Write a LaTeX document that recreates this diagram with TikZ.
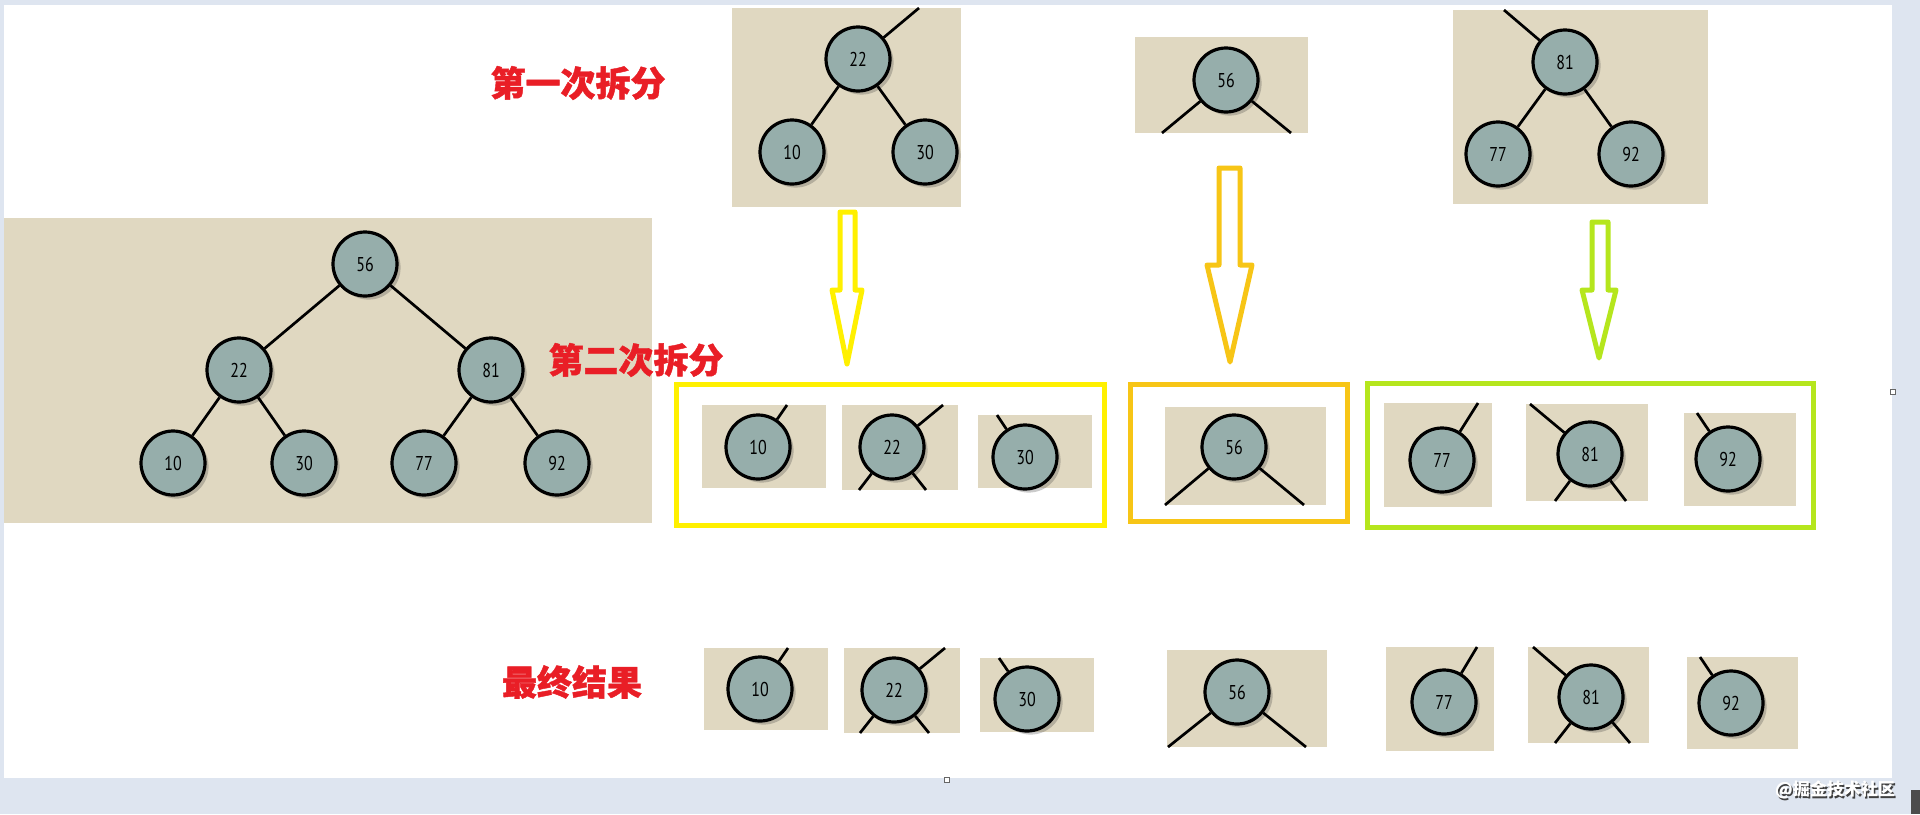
\documentclass[tikz,border=0pt]{standalone}
\usepackage{fontspec}
\setmainfont{PT Sans}
\newfontfamily\numfont{PT Sans}[FakeStretch=0.8]
\newfontfamily\cjk{Noto Sans CJK SC}[BoldFeatures={FakeBold=1.2}]
\newfontfamily\cjkplain{Noto Sans CJK SC}
\usetikzlibrary{shadows}
\definecolor{pagebg}{RGB}{222,229,240}
\definecolor{panelc}{RGB}{224,216,193}
\definecolor{nodefill}{RGB}{150,174,171}
\definecolor{lblred}{RGB}{233,30,38}
\definecolor{ylw}{RGB}{255,240,0}
\definecolor{goldc}{RGB}{247,197,22}
\definecolor{limec}{RGB}{181,230,29}
\begin{document}
\begin{tikzpicture}[x=0.5pt,y=-0.5pt,
  panel/.style={fill=panelc},
  edge/.style={draw=black,line width=1.35pt},
  tnode/.style={circle,draw=black,line width=1.6pt,fill=nodefill,minimum size=32pt,inner sep=0pt,
    font=\numfont\fontsize{10}{11}\selectfont,text=black,
    drop shadow={shadow xshift=1.8pt,shadow yshift=-1.8pt,opacity=0.25,fill=black!80}},
  lbl/.style={font=\cjk\bfseries\fontsize{17.5}{20}\selectfont,text=lblred,inner sep=0pt},
  arrowshape/.style={line width=2.5pt,line join=round,fill=white},
  groupbox/.style={line width=2.5pt},
  handle/.style={draw=black!60,fill=white,line width=0.4pt}]
\useasboundingbox (0,0) rectangle (1920,814);
\fill[pagebg] (0,0) rectangle (1920,814);
\fill[white] (4,5) rectangle (1892,778);

% ---------- big tree ----------
\fill[panel] (4,218) rectangle (652,523);
\node[tnode] (n56) at (365,264) {56};
\node[tnode] (n22) at (239,370) {22};
\node[tnode] (n81) at (491,370) {81};
\node[tnode] (n10) at (173,463) {10};
\node[tnode] (n30) at (304,463) {30};
\node[tnode] (n77) at (424,463) {77};
\node[tnode] (n92) at (557,463) {92};
\draw[edge] (n56) -- (n22);
\draw[edge] (n56) -- (n81);
\draw[edge] (n22) -- (n10);
\draw[edge] (n22) -- (n30);
\draw[edge] (n81) -- (n77);
\draw[edge] (n81) -- (n92);

% ---------- labels ----------
\node[lbl] (l1) at (578,83) {第一次拆分};
\node[lbl] (l2) at (636,360) {第二次拆分};
\node[lbl] (l3) at (572,682) {最终结果};

% ---------- first split ----------
\fill[panel] (732,8) rectangle (961,207);
\node[tnode] (a22) at (858,59) {22};
\node[tnode] (a10) at (792,152) {10};
\node[tnode] (a30) at (925,152) {30};
\coordinate (a22u) at (919,8);
\draw[edge] (a22u) -- (a22);
\draw[edge] (a22) -- (a10);
\draw[edge] (a22) -- (a30);

\fill[panel] (1135,37) rectangle (1308,133);
\node[tnode] (b56) at (1226,80) {56};
\coordinate (b56l) at (1162,133);
\coordinate (b56r) at (1291,133);
\draw[edge] (b56l) -- (b56);
\draw[edge] (b56r) -- (b56);

\fill[panel] (1453,10) rectangle (1708,204);
\node[tnode] (c81) at (1565,62) {81};
\node[tnode] (c77) at (1498,154) {77};
\node[tnode] (c92) at (1631,154) {92};
\coordinate (c81u) at (1504,10);
\draw[edge] (c81u) -- (c81);
\draw[edge] (c81) -- (c77);
\draw[edge] (c81) -- (c92);

% ---------- arrows ----------
\draw[arrowshape,draw=ylw] (840,212) -- (855,212) -- (855,290) -- (862,290) -- (847,364) -- (832,290) -- (840,290) -- cycle;
\draw[arrowshape,draw=goldc] (1219,168) -- (1240,168) -- (1240,265) -- (1252,265) -- (1230,362) -- (1207,265) -- (1219,265) -- cycle;
\draw[arrowshape,draw=limec] (1592,222) -- (1608,222) -- (1608,290) -- (1616,290) -- (1599,358) -- (1582,290) -- (1592,290) -- cycle;

% ---------- second split ----------
\draw[groupbox,draw=ylw] (676,384) rectangle (1104,525);
\fill[panel] (702,405) rectangle (826,488);
\node[tnode] (d10) at (758,447) {10};
\coordinate (d10u) at (787,405);
\draw[edge] (d10u) -- (d10);
\fill[panel] (842,405) rectangle (958,490);
\node[tnode] (d22) at (892,447) {22};
\coordinate (d22u) at (943,405);
\coordinate (d22l) at (859,490);
\coordinate (d22r) at (926,490);
\draw[edge] (d22u) -- (d22);
\draw[edge] (d22l) -- (d22);
\draw[edge] (d22r) -- (d22);
\fill[panel] (978,415) rectangle (1092,488);
\node[tnode] (d30) at (1025,457) {30};
\coordinate (d30u) at (997,415);
\draw[edge] (d30u) -- (d30);

\draw[groupbox,draw=goldc] (1130,384) rectangle (1347,521);
\fill[panel] (1165,407) rectangle (1326,505);
\node[tnode] (e56) at (1234,447) {56};
\coordinate (e56l) at (1165,505);
\coordinate (e56r) at (1304,505);
\draw[edge] (e56l) -- (e56);
\draw[edge] (e56r) -- (e56);

\draw[groupbox,draw=limec] (1367,383) rectangle (1813,527);
\fill[panel] (1384,403) rectangle (1492,507);
\node[tnode] (f77) at (1442,460) {77};
\coordinate (f77u) at (1478,403);
\draw[edge] (f77u) -- (f77);
\fill[panel] (1526,404) rectangle (1648,501);
\node[tnode] (f81) at (1590,454) {81};
\coordinate (f81u) at (1530,404);
\coordinate (f81l) at (1555,501);
\coordinate (f81r) at (1626,501);
\draw[edge] (f81u) -- (f81);
\draw[edge] (f81l) -- (f81);
\draw[edge] (f81r) -- (f81);
\fill[panel] (1684,413) rectangle (1796,506);
\node[tnode] (f92) at (1728,459) {92};
\coordinate (f92u) at (1697,413);
\draw[edge] (f92u) -- (f92);

% ---------- final result ----------
\fill[panel] (704,648) rectangle (828,730);
\node[tnode] (g10) at (760,689) {10};
\coordinate (g10u) at (788,648);
\draw[edge] (g10u) -- (g10);
\fill[panel] (844,648) rectangle (960,733);
\node[tnode] (g22) at (894,690) {22};
\coordinate (g22u) at (945,648);
\coordinate (g22l) at (860,733);
\coordinate (g22r) at (929,733);
\draw[edge] (g22u) -- (g22);
\draw[edge] (g22l) -- (g22);
\draw[edge] (g22r) -- (g22);
\fill[panel] (980,658) rectangle (1094,732);
\node[tnode] (g30) at (1027,699) {30};
\coordinate (g30u) at (999,658);
\draw[edge] (g30u) -- (g30);

\fill[panel] (1167,650) rectangle (1327,747);
\node[tnode] (g56) at (1237,692) {56};
\coordinate (g56l) at (1168,747);
\coordinate (g56r) at (1306,747);
\draw[edge] (g56l) -- (g56);
\draw[edge] (g56r) -- (g56);

\fill[panel] (1386,647) rectangle (1494,751);
\node[tnode] (g77) at (1444,702) {77};
\coordinate (g77u) at (1477,647);
\draw[edge] (g77u) -- (g77);
\fill[panel] (1528,647) rectangle (1649,743);
\node[tnode] (g81) at (1591,697) {81};
\coordinate (g81u) at (1533,647);
\coordinate (g81l) at (1555,743);
\coordinate (g81r) at (1630,743);
\draw[edge] (g81u) -- (g81);
\draw[edge] (g81l) -- (g81);
\draw[edge] (g81r) -- (g81);
\fill[panel] (1687,657) rectangle (1798,749);
\node[tnode] (g92) at (1731,703) {92};
\coordinate (g92u) at (1700,657);
\draw[edge] (g92u) -- (g92);

% ---------- page decorations ----------
\node[handle,minimum size=2.5pt,inner sep=0pt] (h1) at (1893,392) {};
\node[handle,minimum size=2.5pt,inner sep=0pt] (h2) at (947,780) {};
\fill[black!70] (1911,790) rectangle (1920,814);
\node[font=\cjkplain\bfseries\fontsize{8.5}{10}\selectfont,text=black!75] (wms) at (1836.5,791.5) {@掘金技术社区};
\node[font=\cjkplain\bfseries\fontsize{8.5}{10}\selectfont,text=white] (wm) at (1835,790) {@掘金技术社区};
\end{tikzpicture}
\end{document}
